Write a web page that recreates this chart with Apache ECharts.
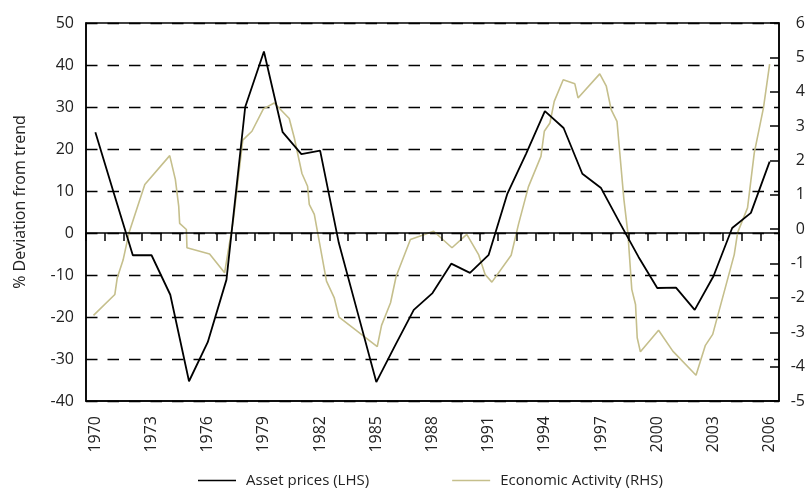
<!DOCTYPE html>
<html><head><meta charset="utf-8">
<script src="https://cdn.jsdelivr.net/npm/echarts@6/dist/echarts.min.js"></script>
<style>html,body{margin:0;padding:0;background:#fff}#c{width:808px;height:488px}</style>
</head><body><div id="c"></div>
<script>
// Categories (years)
const years = ['1970','1971','1972','1973','1974','1975','1976','1977','1978','1979',
  '1980','1981','1982','1983','1984','1985','1986','1987','1988','1989',
  '1990','1991','1992','1993','1994','1995','1996','1997','1998','1999',
  '2000','2001','2002','2003','2004','2005','2006'];

// Asset prices (LHS), % deviation from trend, annual
const assetPrices = [24, 9.3, -5.3, -5.3, -14.7, -35.3, -26, -11.1, 30, 43.2,
  24, 18.8, 19.6, -2.4, -18.9, -35.5, -26.8, -18.3, -14.3, -7.3,
  -9.5, -5.2, 9.4, 18.9, 29, 25, 14.1, 10.7, 2.4, -5.7,
  -13.1, -13, -18.3, -10.3, 1.2, 4.8, 17];

// Economic Activity (RHS): time (decimal year) and value
const econTime = [1969.9, 1971.04, 1971.17, 1971.48, 1971.8, 1972.64, 1973.97, 1974.27, 1974.45, 1974.5,
  1974.86, 1974.89, 1976.1, 1976.9, 1977.37, 1977.87, 1978.36, 1978.97, 1979.55, 1980.35,
  1980.62, 1981.03, 1981.33, 1981.42, 1981.69, 1982.34, 1982.75, 1983.01, 1985.05, 1985.28,
  1985.76, 1986.06, 1986.82, 1988.06, 1989.04, 1989.83, 1990.46, 1990.81, 1991.17, 1992.2,
  1992.59, 1993.12, 1993.79, 1993.97, 1994.27, 1994.5, 1994.98, 1995.6, 1995.77, 1996.93,
  1997.28, 1997.54, 1997.85, 1998.22, 1998.43, 1998.64, 1998.84, 1998.93, 1999.1, 2000.07,
  2000.83, 2002.07, 2002.57, 2002.96, 2004.11, 2004.29, 2004.82, 2005.18, 2005.67, 2006.0];
const econValue = [-2.51, -1.90, -1.41, -0.90, -0.10, 1.30, 2.14, 1.45, 0.67, 0.17,
  -0.01, -0.54, -0.72, -1.27, 0.28, 2.59, 2.85, 3.50, 3.67, 3.22,
  2.66, 1.62, 1.25, 0.72, 0.43, -1.51, -1.99, -2.56, -3.42, -2.80,
  -2.14, -1.37, -0.30, -0.06, -0.54, -0.15, -0.74, -1.32, -1.54, -0.76,
  0.14, 1.23, 2.12, 2.85, 3.09, 3.72, 4.35, 4.23, 3.82, 4.52,
  4.16, 3.48, 3.14, 0.86, -0.10, -1.75, -2.19, -3.16, -3.57, -2.94,
  -3.55, -4.25, -3.38, -3.06, -0.74, -0.10, 0.62, 2.22, 3.53, 4.8];

const seriesNames = ['Asset prices (LHS)', 'Economic Activity (RHS)'];
const yAxisName = '% Deviation from trend';

const FONT = '"Open Sans", "Noto Sans", sans-serif';
const TXT = '#222';
const GREEN = '#c5bf8c';

const chart = echarts.init(document.getElementById('c'), null, {renderer: 'canvas'});
chart.setOption({
  animation: false,
  backgroundColor: '#fff',
  textStyle: {fontFamily: FONT, color: TXT},
  grid: {left: 86, right: 27, top: 23, bottom: 87, show: true, borderColor: '#000', borderWidth: 1.5, backgroundColor: 'transparent'},
  graphic: [{
    type: 'text', x: 20, y: 202, rotation: Math.PI / 2,
    style: {text: yAxisName, fontSize: 16, fontFamily: FONT, fill: TXT, align: 'center', verticalAlign: 'middle'}
  }],
  legend: {
    left: 198, top: 473, padding: 0, itemWidth: 38, itemHeight: 1.6, itemGap: 83,
    icon: 'rect',
    data: seriesNames,
    textStyle: {fontSize: 15, fontFamily: FONT, color: TXT, padding: [0, 0, 0, 5]}
  },
  xAxis: [
    {
      type: 'category', data: years, position: 'bottom', boundaryGap: true,
      axisLine: {onZero: true, lineStyle: {color: '#000', width: 1.5}},
      axisTick: {show: true, interval: 0, length: 8, inside: false, lineStyle: {color: '#000', width: 1.5}},
      axisLabel: {show: false}, splitLine: {show: false}, z: 5
    },
    {
      type: 'category', data: years, position: 'bottom', boundaryGap: true,
      axisLine: {onZero: false, show: true, lineStyle: {color: '#000', width: 1.5}},
      axisTick: {show: false},
      axisLabel: {interval: 2, rotate: 90, margin: 15, fontSize: 16, fontFamily: FONT, color: TXT},
      splitLine: {show: false}
    },
    {
      type: 'value', min: 1969.5, max: 2006.5, show: false, position: 'bottom'
    }
  ],
  yAxis: [
    {
      type: 'value', min: -40, max: 50, interval: 10, position: 'left',
      axisLine: {show: true, lineStyle: {color: '#000', width: 1.5}},
      axisTick: {show: false},
      axisLabel: {margin: 12, fontSize: 16, fontFamily: FONT, color: TXT},
      splitLine: {show: true, lineStyle: {color: '#000', width: 1.3, type: [11.5, 10]}}
    },
    {
      type: 'value', min: -5, max: 6, interval: 1, position: 'right',
      axisLine: {show: true, lineStyle: {color: '#000', width: 1.5}},
      axisTick: {show: true, inside: true, length: 9, lineStyle: {color: '#000', width: 1.5}},
      axisLabel: {margin: 26, align: 'right', fontSize: 16, fontFamily: FONT, color: TXT},
      splitLine: {show: false}
    }
  ],
  series: [
    {
      name: seriesNames[0], type: 'line', xAxisIndex: 0, yAxisIndex: 0,
      data: assetPrices, symbol: 'none', z: 4,
      lineStyle: {color: '#000', width: 1.8}, itemStyle: {color: '#000'}
    },
    {
      name: seriesNames[1], type: 'line', xAxisIndex: 2, yAxisIndex: 1,
      data: econTime.map((t, i) => [t, econValue[i]]), symbol: 'none', z: 3,
      lineStyle: {color: GREEN, width: 1.6}, itemStyle: {color: GREEN}
    }
  ]
});
</script>
</body></html>
